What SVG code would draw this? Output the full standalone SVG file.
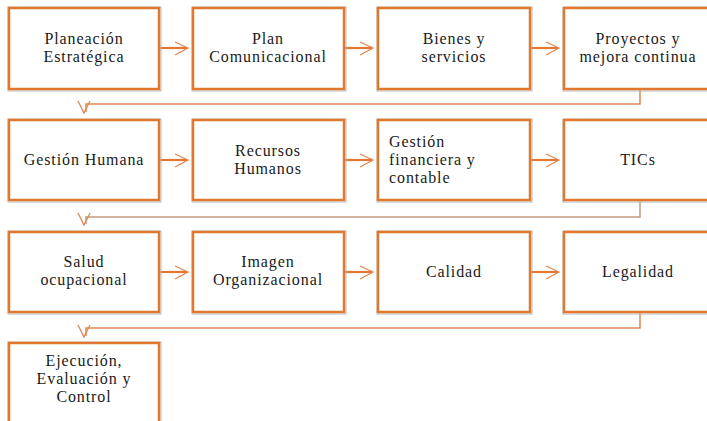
<svg xmlns="http://www.w3.org/2000/svg" width="707" height="421" viewBox="0 0 707 421">
<defs>
<style>
.box{fill:#fff;stroke:#E2772F;stroke-width:2.5}
.sh{fill:none;stroke:#B8B8B8;stroke-width:1}
text{font-family:"Times New Roman","Liberation Serif","DejaVu Serif","Noto Serif",serif;font-size:16px;letter-spacing:0.9px;fill:#1a1a1a;text-anchor:middle}
.tl{text-anchor:start}
.fw{stroke:#E2772F;stroke-width:2.2;fill:none}
.hd{stroke:#E08850;stroke-width:1.3;fill:none}
.ret{stroke:#DC8A55;stroke-width:1.5;fill:none}
.ret2{stroke:#C49A80;stroke-width:1.5;fill:none}
</style>
</defs>
<rect width="707" height="421" fill="#fff"/>
<g id="connectors">
<line class="fw" x1="159" y1="48" x2="187" y2="48"/><polyline class="hd" points="175,42 188,48 175,55"/>
<line class="fw" x1="344" y1="48" x2="372" y2="48"/><polyline class="hd" points="360,42 373,48 360,55"/>
<line class="fw" x1="530" y1="48" x2="558" y2="48"/><polyline class="hd" points="546,42 559,48 546,55"/>
<path class="ret" d="M640 89 V104 H86 V112"/><polyline class="hd" points="78,101 84,113 90,101"/>
<line class="fw" x1="159" y1="160" x2="187" y2="160"/><polyline class="hd" points="175,154 188,160 175,167"/>
<line class="fw" x1="344" y1="160" x2="372" y2="160"/><polyline class="hd" points="360,154 373,160 360,167"/>
<line class="fw" x1="530" y1="160" x2="558" y2="160"/><polyline class="hd" points="546,154 559,160 546,167"/>
<path class="ret2" d="M640 200 V217 H86 V224"/><polyline class="hd" points="78,213 84,225 90,213"/>
<line class="fw" x1="159" y1="272" x2="187" y2="272"/><polyline class="hd" points="175,266 188,272 175,279"/>
<line class="fw" x1="344" y1="272" x2="372" y2="272"/><polyline class="hd" points="360,266 373,272 360,279"/>
<line class="fw" x1="530" y1="272" x2="558" y2="272"/><polyline class="hd" points="546,266 559,272 546,279"/>
<path class="ret" d="M640 312 V328 H86 V336"/><polyline class="hd" points="78,325 84,337 90,325"/>
</g>
<g id="n1"><rect class="sh" x="8" y="7" width="153" height="84"/><rect class="box" x="9" y="8" width="150" height="81"/><text x="84" y="44">Planeación</text><text x="84" y="62">Estratégica</text></g>
<g id="n2"><rect class="sh" x="192" y="7" width="154" height="84"/><rect class="box" x="193" y="8" width="151" height="81"/><text x="268" y="44">Plan</text><text x="268" y="62">Comunicacional</text></g>
<g id="n3"><rect class="sh" x="377" y="7" width="155" height="84"/><rect class="box" x="378" y="8" width="152" height="81"/><text x="454" y="44">Bienes y</text><text x="454" y="62">servicios</text></g>
<g id="n4"><rect class="sh" x="563" y="7" width="155" height="84"/><rect class="box" x="564" y="8" width="152" height="81"/><text x="638" y="44">Proyectos y</text><text x="638" y="62">mejora continua</text></g>
<g id="n5"><rect class="sh" x="8" y="119" width="153" height="83"/><rect class="box" x="9" y="120" width="150" height="80"/><text x="84" y="165">Gestión Humana</text></g>
<g id="n6"><rect class="sh" x="192" y="119" width="154" height="83"/><rect class="box" x="193" y="120" width="151" height="80"/><text x="268" y="156">Recursos</text><text x="268" y="174">Humanos</text></g>
<g id="n7"><rect class="sh" x="377" y="119" width="155" height="83"/><rect class="box" x="378" y="120" width="152" height="80"/><text class="tl" x="389" y="147">Gestión</text><text class="tl" x="389" y="165">financiera y</text><text class="tl" x="389" y="183">contable</text></g>
<g id="n8"><rect class="sh" x="563" y="119" width="155" height="83"/><rect class="box" x="564" y="120" width="152" height="80"/><text x="638" y="165">TICs</text></g>
<g id="n9"><rect class="sh" x="8" y="231" width="153" height="83"/><rect class="box" x="9" y="232" width="150" height="80"/><text x="84" y="267">Salud</text><text x="84" y="285">ocupacional</text></g>
<g id="n10"><rect class="sh" x="192" y="231" width="154" height="83"/><rect class="box" x="193" y="232" width="151" height="80"/><text x="268" y="267">Imagen</text><text x="268" y="285">Organizacional</text></g>
<g id="n11"><rect class="sh" x="377" y="231" width="155" height="83"/><rect class="box" x="378" y="232" width="152" height="80"/><text x="454" y="277">Calidad</text></g>
<g id="n12"><rect class="sh" x="563" y="231" width="155" height="83"/><rect class="box" x="564" y="232" width="152" height="80"/><text x="638" y="277">Legalidad</text></g>
<g id="n13"><rect class="sh" x="8" y="342" width="153" height="100"/><rect class="box" x="9" y="343" width="150" height="98"/><text x="84" y="366">Ejecución,</text><text x="84" y="384">Evaluación y</text><text x="84" y="402">Control</text></g>
</svg>
